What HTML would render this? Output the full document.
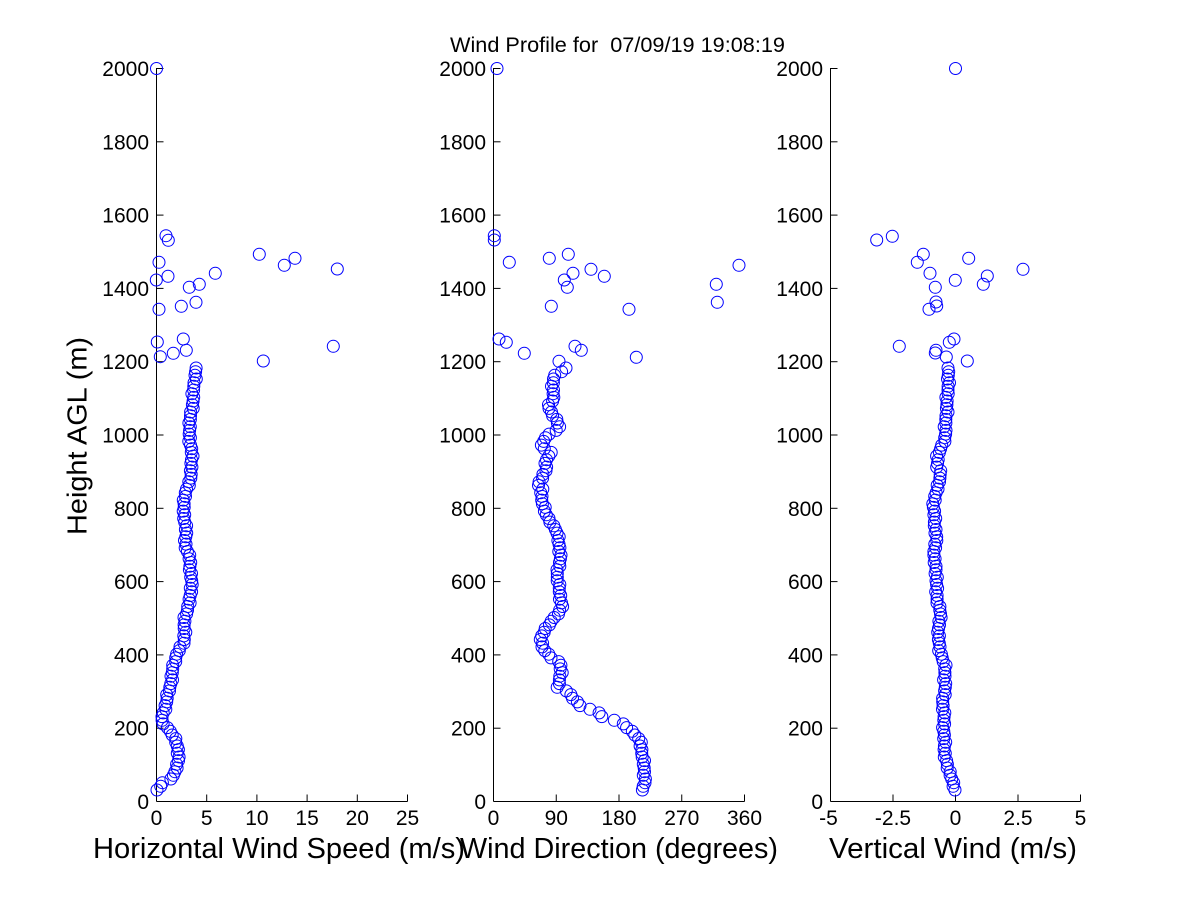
<!DOCTYPE html>
<html>
<head>
<meta charset="utf-8">
<style>
html,body{margin:0;padding:0;background:#fff;}
svg{display:block;}
text{font-family:"Liberation Sans",Arial,Helvetica,sans-serif;fill:#000;}
</style>
</head>
<body>
<svg id="chart" width="1200" height="900" viewBox="0 0 1200 900" xmlns="http://www.w3.org/2000/svg">
<rect x="0" y="0" width="1200" height="900" fill="#fff"/>

<!-- Title -->
<text x="450" y="52" font-size="21" textLength="335" lengthAdjust="spacingAndGlyphs" style="white-space:pre" xml:space="preserve">Wind Profile for  07/09/19 19:08:19</text>

<!-- Y label -->
<text transform="translate(86.5,436) rotate(-90)" text-anchor="middle" font-size="28" textLength="198" lengthAdjust="spacingAndGlyphs">Height AGL (m)</text>

<!-- X labels -->
<text x="93" y="858" font-size="29" textLength="372" lengthAdjust="spacingAndGlyphs">Horizontal Wind Speed (m/s)</text>
<text x="460" y="858" font-size="29" textLength="318" lengthAdjust="spacingAndGlyphs">Wind Direction (degrees)</text>
<text x="829" y="858" font-size="29" textLength="248" lengthAdjust="spacingAndGlyphs">Vertical Wind (m/s)</text>

<g id="axes" stroke="#000" stroke-width="1" fill="none">
  <!-- Panel 1 -->
  <line x1="156.5" y1="68" x2="156.5" y2="801.5"/>
  <line x1="156.5" y1="801.5" x2="407.5" y2="801.5"/>
  <!-- Panel 2 -->
  <line x1="493.5" y1="68" x2="493.5" y2="801.5"/>
  <line x1="493.5" y1="801.5" x2="744.5" y2="801.5"/>
  <!-- Panel 3 -->
  <line x1="830.5" y1="68" x2="830.5" y2="801.5"/>
  <line x1="830.5" y1="801.5" x2="1080.5" y2="801.5"/>
</g>
<g id="ticks" stroke="#000" stroke-width="1" fill="none"></g>
<g id="ticklabels" font-size="21">
  <!-- Panel 1 y labels -->
  <text x="149" y="76" text-anchor="end">2000</text>
  <text x="149" y="149.3" text-anchor="end">1800</text>
  <text x="149" y="222.6" text-anchor="end">1600</text>
  <text x="149" y="295.9" text-anchor="end">1400</text>
  <text x="149" y="369.2" text-anchor="end">1200</text>
  <text x="149" y="442.5" text-anchor="end">1000</text>
  <text x="149" y="515.8" text-anchor="end">800</text>
  <text x="149" y="589.1" text-anchor="end">600</text>
  <text x="149" y="662.4" text-anchor="end">400</text>
  <text x="149" y="735.7" text-anchor="end">200</text>
  <text x="149" y="809" text-anchor="end">0</text>
  <!-- Panel 2 y labels -->
  <text x="486" y="76" text-anchor="end">2000</text>
  <text x="486" y="149.3" text-anchor="end">1800</text>
  <text x="486" y="222.6" text-anchor="end">1600</text>
  <text x="486" y="295.9" text-anchor="end">1400</text>
  <text x="486" y="369.2" text-anchor="end">1200</text>
  <text x="486" y="442.5" text-anchor="end">1000</text>
  <text x="486" y="515.8" text-anchor="end">800</text>
  <text x="486" y="589.1" text-anchor="end">600</text>
  <text x="486" y="662.4" text-anchor="end">400</text>
  <text x="486" y="735.7" text-anchor="end">200</text>
  <text x="486" y="809" text-anchor="end">0</text>
  <!-- Panel 3 y labels -->
  <text x="823" y="76" text-anchor="end">2000</text>
  <text x="823" y="149.3" text-anchor="end">1800</text>
  <text x="823" y="222.6" text-anchor="end">1600</text>
  <text x="823" y="295.9" text-anchor="end">1400</text>
  <text x="823" y="369.2" text-anchor="end">1200</text>
  <text x="823" y="442.5" text-anchor="end">1000</text>
  <text x="823" y="515.8" text-anchor="end">800</text>
  <text x="823" y="589.1" text-anchor="end">600</text>
  <text x="823" y="662.4" text-anchor="end">400</text>
  <text x="823" y="735.7" text-anchor="end">200</text>
  <text x="823" y="809" text-anchor="end">0</text>
  <!-- Panel 1 x labels -->
  <text x="156.5" y="825" text-anchor="middle">0</text>
  <text x="206.7" y="825" text-anchor="middle">5</text>
  <text x="256.9" y="825" text-anchor="middle">10</text>
  <text x="307.1" y="825" text-anchor="middle">15</text>
  <text x="357.3" y="825" text-anchor="middle">20</text>
  <text x="407.5" y="825" text-anchor="middle">25</text>
  <!-- Panel 2 x labels -->
  <text x="493.5" y="825" text-anchor="middle">0</text>
  <text x="556.25" y="825" text-anchor="middle">90</text>
  <text x="619" y="825" text-anchor="middle">180</text>
  <text x="681.75" y="825" text-anchor="middle">270</text>
  <text x="744.5" y="825" text-anchor="middle">360</text>
  <!-- Panel 3 x labels -->
  <text x="828.5" y="825" text-anchor="middle">-5</text>
  <text x="893" y="825" text-anchor="middle">-2.5</text>
  <text x="955.5" y="825" text-anchor="middle">0</text>
  <text x="1018" y="825" text-anchor="middle">2.5</text>
  <text x="1080.5" y="825" text-anchor="middle">5</text>
</g>
<g id="data" stroke="#0000ff" stroke-width="1" fill="none"></g>
</svg>

<script>
(function(){
  var NS = "http://www.w3.org/2000/svg";
  var ticks = document.getElementById("ticks");
  var data = document.getElementById("data");
  function line(x1,y1,x2,y2){
    var l = document.createElementNS(NS,"line");
    l.setAttribute("x1",x1);l.setAttribute("y1",y1);
    l.setAttribute("x2",x2);l.setAttribute("y2",y2);
    ticks.appendChild(l);
  }
  function circ(x,y){
    var c = document.createElementNS(NS,"circle");
    c.setAttribute("cx",x.toFixed(1));c.setAttribute("cy",y.toFixed(1));
    c.setAttribute("r","6");
    data.appendChild(c);
  }
  // y ticks
  var axX = [156.5, 493.5, 830.5];
  for (var p=0;p<3;p++){
    for (var k=0;k<=10;k++){
      var y = 801.5 - k*73.3;
      line(axX[p], y, axX[p]+7, y);
    }
  }
  // x ticks
  var xt = [
    [156.5,206.7,256.9,307.1,357.3,407.5],
    [493.5,556.25,619,681.75,744.5],
    [830.5,893,955.5,1018,1080.5]
  ];
  xt.forEach(function(arr){ arr.forEach(function(x){ line(x,801.5,x,794.5); }); });

  var panels = [
    { key: [[368,196],[393,193.3],[410,192],[427,189],[440,190],[453,191.7],[470,191.7],[487,188],[503,183],[527,185.7],[547,185.7],[560,190],[577,191],[593,191.5],[607,187.7],[623,184.3],[643,184.3],[653,176.7],[667,173.3],[687,170],[707,165],[720,161.7],[728,167],[737,174],[745,178],[760,178],[772,176],[778,172],[783,162],[790,157]],
      upper: [[166,235.7],[168.3,240.3],[259.3,254.3],[295,258.3],[284.3,265.3],[337.3,269],[159,262.3],[215.3,273.3],[168,276.3],[156.3,280],[199.3,284.3],[189.3,287.3],[196,302.3],[181.3,306.3],[159,309.3],[183.3,339],[157.3,342],[333.3,346.3],[186.3,350.3],[173.3,353.3],[160.3,356.7],[263.3,361],[156.5,68.5]] },
    { key: [[368,567],[377,553],[387,552],[397,555],[407,547],[420,557],[427,560],[437,545],[448,542],[452,552],[460,545],[470,547],[485,537],[487,542],[500,542],[513,545],[523,552],[533,557],[547,560],[560,560],[577,557],[593,560],[607,562],[620,553],[630,545],[637,540],[647,543],[657,550],[663,560],[673,562],[687,557],[693,570],[700,575],[707,582],[710,592],[713,598],[717,603],[720,613],[723,623],[730,630],[737,637],[743,641],[760,643],[777,645],[783,645],[790,641]],
      upper: [[494.3,235.7],[494.3,240],[568.3,254.3],[549.3,258.3],[509.3,262.3],[739,265.3],[591,269.3],[573,273.3],[604.3,276.3],[564.3,280],[716.3,284.3],[567.3,287.3],[717.3,302.3],[551.3,306.3],[629,309.3],[499,339],[506.3,342.3],[575,346.3],[581.3,350.3],[524.3,353.3],[636.3,357.3],[559,361.3],[497,68.5]] },
    { key: [[368,949],[387,948],[403,947],[420,946],[437,945],[447,942],[457,937],[467,937],[473,942],[487,937],[500,935],[507,933],[520,935],[540,936],[560,934],[577,937],[593,936],[610,940],[620,940],[637,938],[650,940],[667,945],[687,945],[703,943],[720,944],[737,944],[753,945],[767,947],[780,953],[788,954]],
      upper: [[892.3,236.3],[876.7,240],[923.3,254.3],[968.7,258.3],[917.3,262.3],[1023,269.3],[930,273.3],[987.3,276],[955.3,280.3],[983.3,284.3],[935.3,287.3],[936,302],[936.7,306],[929,309.3],[954,339],[949.3,342.3],[899.3,346.3],[936,350.3],[935.3,353],[946.3,357],[967.3,361],[955.5,68.5]] }
  ];
  function interp(key,y){
    if (y<=key[0][0]) return key[0][1];
    for (var i=1;i<key.length;i++){
      if (y<=key[i][0]){
        var a=key[i-1], b=key[i];
        var t=(y-a[0])/(b[0]-a[0]);
        return a[1]+t*(b[1]-a[1]);
      }
    }
    return key[key.length-1][1];
  }
  panels.forEach(function(pn,pi){
    var N=115;
    for (var i=0;i<=N;i++){
      var y = 790 - i*(422/N);
      var j = 0.9*Math.sin(i*2.37+pi*1.3) + 0.6*Math.sin(i*0.91+pi);
      circ(interp(pn.key,y)+j, y);
    }
    pn.upper.forEach(function(q){ circ(q[0],q[1]); });
  });
})();
</script>
</body>
</html>
